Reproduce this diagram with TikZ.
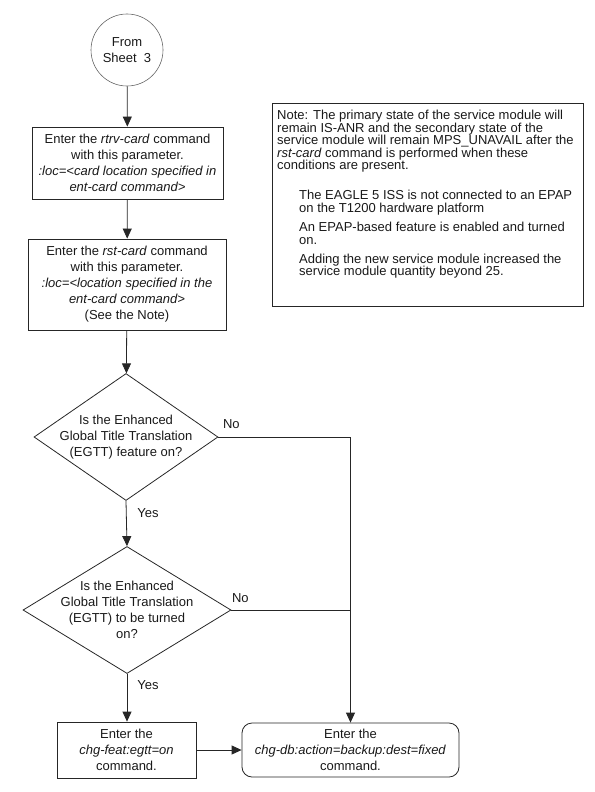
\documentclass[tikz,border=0pt]{standalone}
\usepackage{fontspec}
\setmainfont{Liberation Sans}
\usetikzlibrary{shapes.geometric,arrows.meta}
\begin{document}
\begin{tikzpicture}[x=1pt,y=-1pt,
  every node/.style={font=\fontsize{13}{16}\selectfont, text=black!90},
  line/.style={draw=black!85, line width=0.8pt},
  arr/.style={line, -{Triangle[length=10pt,width=9pt]}},
  procbox/.style={line, rectangle, align=center, inner sep=0pt},
  roundbox/.style={line, rectangle, rounded corners=10pt, align=center, inner sep=0pt},
  decision/.style={line, diamond, aspect=1.45, inner sep=-40pt, align=center},
  connector/.style={draw=black!60, line width=0.6pt, circle, minimum size=72pt, inner sep=0pt, align=center},
  lbl/.style={inner sep=0pt}
]
\useasboundingbox (0,0) rectangle (594,792);

\node[connector] (start) at (127,50) {From\\Sheet~~3};

\node[procbox, minimum width=191pt, minimum height=72pt] (b1) at (127.5,163)
  {Enter the \textit{rtrv-card} command\\with this parameter.\\\textit{:loc=<card location specified in}\\\textit{ent-card command>}};

\node[procbox, minimum width=198pt, minimum height=91pt] (b2) at (127,284.5)
  {Enter the \textit{rst-card} command\\with this parameter.\\\textit{:loc=<location specified in the}\\\textit{ent-card command>}\\(See the Note)};

\node[decision, minimum width=184pt, minimum height=127pt] (d1) at (126,437)
  {Is the Enhanced\\Global Title Translation\\(EGTT) feature on?};

\node[decision, minimum width=208pt, minimum height=127pt] (d2) at (127,610)
  {Is the Enhanced\\Global Title Translation\\(EGTT) to be turned\\on?};

\node[procbox, minimum width=139pt, minimum height=56pt] (b3) at (126.5,750)
  {Enter the\\\textit{chg-feat:egtt=on}\\command.};

\node[roundbox, minimum width=217pt, minimum height=54pt] (b4) at (350.5,750)
  {Enter the\\\textit{chg-db:action=backup:dest=fixed}\\command.};

\node[line, rectangle, minimum width=311pt, minimum height=203pt, anchor=north west, inner sep=0pt] (note) at (272,103) {};
\node[anchor=north west, align=left, inner sep=0pt, font=\fontsize{13}{12.5}\selectfont] (notetext) at ([shift={(5,7)}]note.north west)
  {Note: The primary state of the service module will\\
   remain IS-ANR and the secondary state of the\\
   service module will remain MPS\_UNAVAIL after the\\
   \textit{rst-card} command is performed when these\\
   conditions are present.\\[17.5pt]
   \hspace*{22pt}The EAGLE 5 ISS is not connected to an EPAP\\
   \hspace*{22pt}on the T1200 hardware platform\\[7pt]
   \hspace*{22pt}An EPAP-based feature is enabled and turned\\
   \hspace*{22pt}on.\\[6.5pt]
   \hspace*{22pt}Adding the new service module increased the\\
   \hspace*{22pt}service module quantity beyond 25.};

\coordinate (join) at (b4.north |- d2.east);

\draw[arr] (start) -- (b1);
\draw[arr] (b1) -- (b2);
\draw[arr] (b2) -- (d1);
\draw[arr] (d1.south) -- (d2.north);
\draw[arr] (d1.east) -| (b4.north);
\draw[line] (d2.east) -- (join);
\draw[arr] (d2.south) -- (b3.north -| d2.south);
\draw[arr] (b3.east) -- (b4.west);

\node[lbl] (no1) at ([shift={(13,-13)}]d1.east) {No};
\node[lbl] (yes1) at ([shift={(22,12)}]d1.south) {Yes};
\node[lbl] (no2) at ([shift={(9,-12)}]d2.east) {No};
\node[lbl] (yes2) at ([shift={(21,11)}]d2.south) {Yes};
\end{tikzpicture}
\end{document}
